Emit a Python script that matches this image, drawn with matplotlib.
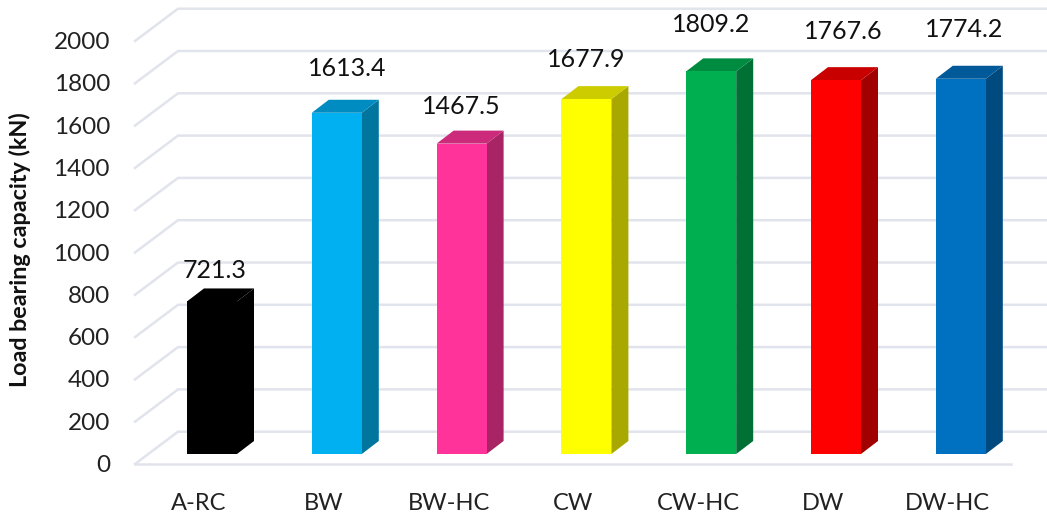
import numpy as np
import matplotlib.pyplot as plt
from matplotlib.patches import Polygon

plt.rcParams['font.family'] = ['Lato', 'DejaVu Sans']

categories = ['A-RC', 'BW', 'BW-HC', 'CW', 'CW-HC', 'DW', 'DW-HC']
values = [721.3, 1613.4, 1467.5, 1677.9, 1809.2, 1767.6, 1774.2]
value_labels = ['721.3', '1613.4', '1467.5', '1677.9', '1809.2', '1767.6', '1774.2']
y_ticks = [0, 200, 400, 600, 800, 1000, 1200, 1400, 1600, 1800, 2000]
front_colors = ['#000000', '#00b0f0', '#ff3399', '#ffff00', '#00b050', '#ff0000', '#0070c0']
top_colors = ['#000000', '#008cc0', '#cc2a7a', '#cccc00', '#008c40', '#c80000', '#005a9a']
side_colors = ['#000000', '#00769f', '#a82464', '#a8a800', '#007035', '#a00000', '#004a80']
# value labels were placed by hand in the source, so offsets differ per bar (px)
label_dx = [3, 10, 0, 0, 0, 7, 3]
label_dy = [33, 46, 39, 42, 49, 51, 51]

W, H = 1047, 512
PX_PER_CAT = 124.8
PX_PER_KN = 42.3 / 200
X0_PX = 212.0  # centre of first bar front
Y0_PX = 454.0  # bar base

fig = plt.figure(figsize=(W / 100, H / 100), dpi=100)
ax = fig.add_axes([0, 0, 1, 1])
ax.set_xlim(-X0_PX / PX_PER_CAT, (W - X0_PX) / PX_PER_CAT)
ax.set_ylim(-(H - Y0_PX) / PX_PER_KN, Y0_PX / PX_PER_KN)
ax.axis('off')

dx = lambda px: px / PX_PER_CAT
dy = lambda px: px / PX_PER_KN

# walls and floor grid
grid_color = '#e1e4ec'
x_front, x_back, x_end = dx(135 - X0_PX), dx(178 - X0_PX), dx(W - X0_PX)
y_back0, y_front0 = dy(Y0_PX - 431.7), dy(Y0_PX - 464)
for t in y_ticks:
    ax.plot([x_front, x_back, x_end], [y_front0 + t, y_back0 + t, y_back0 + t],
            color=grid_color, lw=1.8, zorder=1)
ax.plot([x_front, dx(1011 - X0_PX)], [y_front0, y_front0], color=grid_color, lw=1.8, zorder=1)

# bars
half = dx(25)
ox, oy = dx(17), dy(13)
for i, v in enumerate(values):
    l, r = i - half, i + half
    ax.add_patch(Polygon([(r, 0), (r + ox, oy), (r + ox, v + oy), (r, v)],
                         fc=side_colors[i], ec='none', zorder=2))
    ax.add_patch(Polygon([(l, v), (l + ox, v + oy), (r + ox, v + oy), (r, v)],
                         fc=top_colors[i], ec='none', zorder=2))
    ax.add_patch(Polygon([(l, 0), (r, 0), (r, v), (l, v)],
                         fc=front_colors[i], ec='none', zorder=3))
    ax.text(i + dx(label_dx[i]), v + dy(label_dy[i]), value_labels[i], ha='center',
            va='center_baseline', fontsize=18, color='#111111', zorder=4)
    ax.text(i - dx(13), dy(Y0_PX - 501), categories[i], ha='center', va='center_baseline',
            fontsize=17, color='#222222', zorder=4)

for t in y_ticks:
    ax.text(dx(110 - X0_PX), t + dy(Y0_PX - 463.5), str(t), ha='right', va='center_baseline',
            fontsize=17.5, color='#222222', zorder=4)

ax.text(dx(20 - X0_PX), dy(Y0_PX - 250), 'Load bearing capacity (kN)', rotation=90,
        ha='center', va='center', fontsize=16.8, fontweight='bold', color='#111111')

fig.savefig('out.png', dpi=100, facecolor='white')
